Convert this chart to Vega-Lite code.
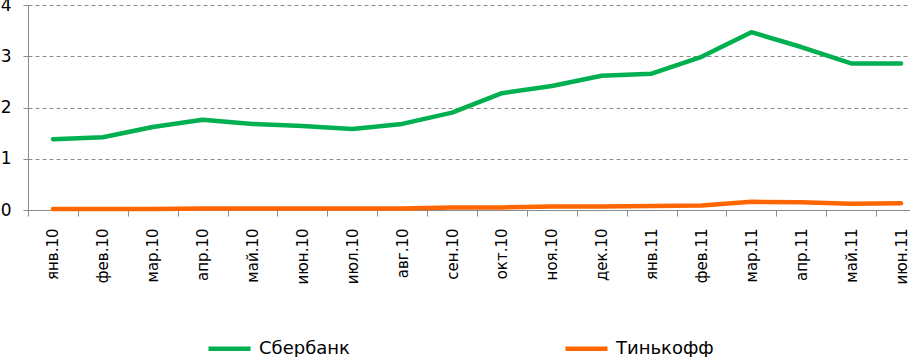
{
  "$schema": "https://vega.github.io/schema/vega-lite/v6.json",
  "width": 898,
  "height": 205,
  "autosize": {"type": "none"},
  "padding": {"left": 28, "top": 5, "right": 0, "bottom": 147},
  "background": "white",
  "config": {
    "font": "DejaVu Sans",
    "view": {"stroke": null}
  },
  "data": {
    "values": [
      {"m": "янв.10", "s": "Сбербанк", "v": 1.38},
      {"m": "фев.10", "s": "Сбербанк", "v": 1.42},
      {"m": "мар.10", "s": "Сбербанк", "v": 1.62},
      {"m": "апр.10", "s": "Сбербанк", "v": 1.76},
      {"m": "май.10", "s": "Сбербанк", "v": 1.68},
      {"m": "июн.10", "s": "Сбербанк", "v": 1.64},
      {"m": "июл.10", "s": "Сбербанк", "v": 1.58},
      {"m": "авг.10", "s": "Сбербанк", "v": 1.68},
      {"m": "сен.10", "s": "Сбербанк", "v": 1.9},
      {"m": "окт.10", "s": "Сбербанк", "v": 2.28},
      {"m": "ноя.10", "s": "Сбербанк", "v": 2.42},
      {"m": "дек.10", "s": "Сбербанк", "v": 2.62},
      {"m": "янв.11", "s": "Сбербанк", "v": 2.66},
      {"m": "фев.11", "s": "Сбербанк", "v": 2.99},
      {"m": "мар.11", "s": "Сбербанк", "v": 3.47},
      {"m": "апр.11", "s": "Сбербанк", "v": 3.18},
      {"m": "май.11", "s": "Сбербанк", "v": 2.86},
      {"m": "июн.11", "s": "Сбербанк", "v": 2.86},
      {"m": "янв.10", "s": "Тинькофф", "v": 0.02},
      {"m": "фев.10", "s": "Тинькофф", "v": 0.02},
      {"m": "мар.10", "s": "Тинькофф", "v": 0.02},
      {"m": "апр.10", "s": "Тинькофф", "v": 0.03},
      {"m": "май.10", "s": "Тинькофф", "v": 0.03},
      {"m": "июн.10", "s": "Тинькофф", "v": 0.03},
      {"m": "июл.10", "s": "Тинькофф", "v": 0.03},
      {"m": "авг.10", "s": "Тинькофф", "v": 0.03},
      {"m": "сен.10", "s": "Тинькофф", "v": 0.05},
      {"m": "окт.10", "s": "Тинькофф", "v": 0.05},
      {"m": "ноя.10", "s": "Тинькофф", "v": 0.07},
      {"m": "дек.10", "s": "Тинькофф", "v": 0.07},
      {"m": "янв.11", "s": "Тинькофф", "v": 0.08},
      {"m": "фев.11", "s": "Тинькофф", "v": 0.09},
      {"m": "мар.11", "s": "Тинькофф", "v": 0.16},
      {"m": "апр.11", "s": "Тинькофф", "v": 0.15},
      {"m": "май.11", "s": "Тинькофф", "v": 0.12},
      {"m": "июн.11", "s": "Тинькофф", "v": 0.13}
    ]
  },
  "mark": {"type": "line", "strokeWidth": 4.5, "strokeCap": "round", "strokeJoin": "round"},
  "encoding": {
    "x": {
      "field": "m",
      "type": "nominal",
      "sort": ["янв.10","фев.10","мар.10","апр.10","май.10","июн.10","июл.10","авг.10","сен.10","окт.10","ноя.10","дек.10","янв.11","фев.11","мар.11","апр.11","май.11","июн.11"],
      "scale": {"paddingInner": 0, "paddingOuter": 0},
      "axis": {
        "title": null,
        "tickBand": "extent",
        "labelAngle": -90,
        "labelAlign": "right",
        "labelBaseline": "middle",
        "labelPadding": 12,
        "labelFontSize": 15,
        "labelColor": "#000000",
        "domainColor": "#8c8c8c",
        "tickColor": "#8c8c8c",
        "tickSize": 6,
        "grid": false
      }
    },
    "y": {
      "field": "v",
      "type": "quantitative",
      "scale": {"domain": [0, 4]},
      "axis": {
        "title": null,
        "values": [0, 1, 2, 3, 4],
        "labelFontSize": 17,
        "labelColor": "#000000",
        "labelPadding": 12,
        "domainColor": "#8c8c8c",
        "tickColor": "#8c8c8c",
        "tickSize": 5,
        "grid": true,
        "gridColor": "#8c8c8c",
        "gridDash": [4, 3],
        "gridWidth": 1
      }
    },
    "color": {
      "field": "s",
      "type": "nominal",
      "scale": {"domain": ["Сбербанк", "Тинькофф"], "range": ["#00b050", "#ff6600"]},
      "legend": {
        "title": null,
        "orient": "none",
        "legendX": 178,
        "legendY": 320,
        "direction": "horizontal",
        "symbolType": "stroke",
        "symbolSize": 1764,
        "symbolStrokeWidth": 4.5,
        "labelFontSize": 18,
        "labelColor": "#000000",
        "labelOffset": 6,
        "columnPadding": 206
      }
    }
  }
}
